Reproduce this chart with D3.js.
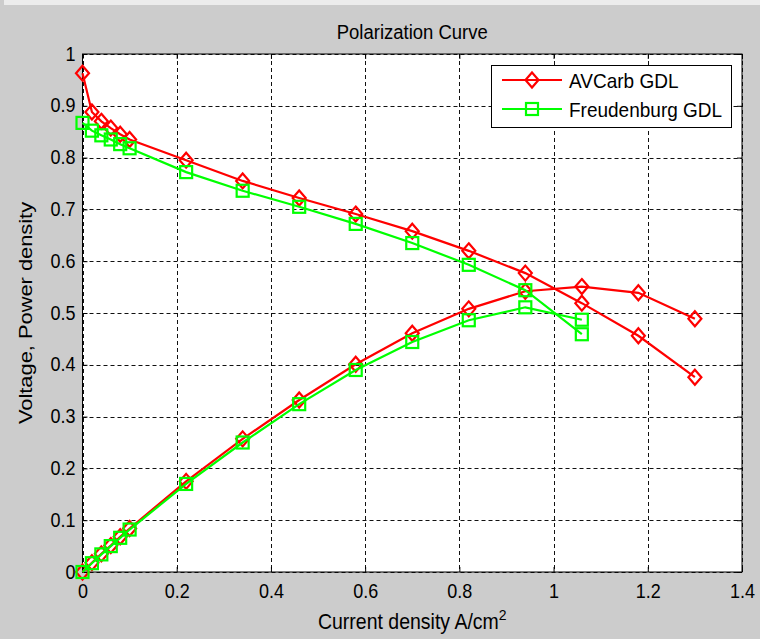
<!DOCTYPE html>
<html><head><meta charset="utf-8">
<script src="https://cdn.jsdelivr.net/npm/d3@7"></script>
<style>html,body{margin:0;padding:0;background:#cccccc;}svg{display:block;}</style>
</head><body>
<svg id="c" width="760" height="639"></svg>
<script>
const currentDensity = [0, 0.02, 0.04, 0.06, 0.08, 0.10, 0.22, 0.34, 0.46, 0.58, 0.70, 0.82, 0.94, 1.06, 1.18, 1.30];
const avcarbVoltage = [0.963, 0.888, 0.870, 0.857, 0.845, 0.835, 0.795, 0.755, 0.722, 0.691, 0.658, 0.620, 0.577, 0.519, 0.456, 0.376];
const avcarbPower   = [0, 0.018, 0.035, 0.051, 0.068, 0.084, 0.175, 0.257, 0.332, 0.401, 0.461, 0.508, 0.542, 0.551, 0.539, 0.489];
const freudCurrent = [0, 0.02, 0.04, 0.06, 0.08, 0.10, 0.22, 0.34, 0.46, 0.58, 0.70, 0.82, 0.94, 1.06];
const freudVoltage = [0.867, 0.852, 0.843, 0.835, 0.826, 0.818, 0.772, 0.736, 0.705, 0.672, 0.635, 0.593, 0.544, 0.459];
const freudPower   = [0, 0.017, 0.034, 0.050, 0.066, 0.082, 0.170, 0.250, 0.324, 0.390, 0.444, 0.486, 0.511, 0.487];
const xTicks = [0, 0.2, 0.4, 0.6, 0.8, 1, 1.2, 1.4];
const yTicks = [0, 0.1, 0.2, 0.3, 0.4, 0.5, 0.6, 0.7, 0.8, 0.9, 1];
const seriesNames = ["AVCarb GDL", "Freudenburg GDL"];

const svg = d3.select("#c");
const L = 82.5, R = 742, T = 54, B = 572;
const x = d3.scaleLinear().domain([0, 1.4]).range([L, R]);
const y = d3.scaleLinear().domain([0, 1]).range([B, T]);
const font = "'Liberation Sans', Arial, sans-serif";

svg.append("rect").attr("x", 0).attr("y", 0).attr("width", 760).attr("height", 639).attr("fill", "#cccccc");
svg.append("rect").attr("x", 4).attr("y", 0).attr("width", 756).attr("height", 5).attr("fill", "#ececec");
svg.append("rect").attr("x", L).attr("y", T).attr("width", R - L).attr("height", B - T).attr("fill", "#fff");

// grid
const grid = svg.append("g").attr("stroke", "#111").attr("stroke-width", 1).attr("stroke-dasharray", "4,3");
xTicks.forEach(t => { const px = Math.round(x(t)) + 0.5; grid.append("line").attr("x1", px).attr("x2", px).attr("y1", T).attr("y2", B); });
yTicks.forEach(t => { const py = Math.round(y(t)) + 0.5; grid.append("line").attr("y1", py).attr("y2", py).attr("x1", L).attr("x2", R); });

// axes (tick marks inward on all four sides)
const fmt = d => d === 0 ? "0" : d3.format("~g")(d);
const xa = svg.append("g").attr("transform", `translate(0,${B})`).call(d3.axisBottom(x).tickValues(xTicks).tickSize(-5).tickFormat(fmt));
const xt = svg.append("g").attr("transform", `translate(0,${T})`).call(d3.axisTop(x).tickValues(xTicks).tickSize(-5).tickFormat(""));
const ya = svg.append("g").attr("transform", `translate(${L},0)`).call(d3.axisLeft(y).tickValues(yTicks).tickSize(-5).tickFormat(fmt));
const yr = svg.append("g").attr("transform", `translate(${R},0)`).call(d3.axisRight(y).tickValues(yTicks).tickSize(-5).tickFormat(""));
[xa, xt, ya, yr].forEach(g => {
  g.select(".domain").remove();
  g.selectAll("line").attr("stroke", "#000");
});
xa.selectAll("text").attr("font-family", font).attr("font-size", 18).attr("fill", "#000")
  .attr("dy", null).attr("y", 0).attr("transform", "translate(0,26) scale(1,1.15)");
ya.selectAll("text").attr("font-family", font).attr("font-size", 18).attr("fill", "#000")
  .attr("dy", null).attr("x", -7).attr("transform", "translate(0,6) scale(1,1.15)");
svg.append("rect").attr("x", L).attr("y", T).attr("width", R - L).attr("height", B - T).attr("fill", "none").attr("stroke", "#000").attr("stroke-width", 1);

// series
const line = d3.line().x(d => x(d[0])).y(d => y(d[1]));
const diamond = (cx, cy) => `M${cx},${cy - 7.5}L${cx + 6.5},${cy}L${cx},${cy + 7.5}L${cx - 6.5},${cy}Z`;
function drawSeries(xs, ys, color, shape) {
  const pts = xs.map((v, i) => [v, ys[i]]);
  svg.append("path").attr("d", line(pts)).attr("fill", "none").attr("stroke", color).attr("stroke-width", 2.2);
  pts.forEach(p => {
    const cx = x(p[0]), cy = y(p[1]);
    if (shape === "d") svg.append("path").attr("d", diamond(cx, cy)).attr("fill", "none").attr("stroke", color).attr("stroke-width", 2.2);
    else svg.append("rect").attr("x", cx - 6).attr("y", cy - 6).attr("width", 12).attr("height", 12).attr("fill", "none").attr("stroke", color).attr("stroke-width", 2.2);
  });
}
drawSeries(currentDensity, avcarbVoltage, "#ff0000", "d");
drawSeries(currentDensity, avcarbPower, "#ff0000", "d");
drawSeries(freudCurrent, freudVoltage, "#00ff00", "s");
drawSeries(freudCurrent, freudPower, "#00ff00", "s");

// legend
const lg = svg.append("g");
lg.append("rect").attr("x", 491.5).attr("y", 65.5).attr("width", 240).attr("height", 62).attr("fill", "#fff").attr("stroke", "#000").attr("stroke-width", 1);
const legendItems = [{name: seriesNames[0], color: "#ff0000", shape: "d", yy: 80}, {name: seriesNames[1], color: "#00ff00", shape: "s", yy: 109}];
legendItems.forEach(it => {
  lg.append("line").attr("x1", 502).attr("x2", 562).attr("y1", it.yy).attr("y2", it.yy).attr("stroke", it.color).attr("stroke-width", 2.2);
  if (it.shape === "d") lg.append("path").attr("d", diamond(532, it.yy)).attr("fill", "none").attr("stroke", it.color).attr("stroke-width", 2.2);
  else lg.append("rect").attr("x", 526).attr("y", it.yy - 6).attr("width", 12).attr("height", 12).attr("fill", "none").attr("stroke", it.color).attr("stroke-width", 2.2);
  lg.append("text").attr("transform", `translate(569,${it.yy + 7.5}) scale(1,1.1)`).attr("font-family", font).attr("font-size", 19).attr("fill", "#000").text(it.name);
});

// titles
svg.append("text").attr("transform", `translate(${(L + R) / 2},39) scale(1,1.1)`).attr("text-anchor", "middle").attr("font-family", font).attr("font-size", 18.5).text("Polarization Curve");
const xl = svg.append("text").attr("transform", `translate(${(L + R) / 2},629) scale(1,1.1)`).attr("text-anchor", "middle").attr("font-family", font).attr("font-size", 19.5);
xl.append("tspan").text("Current density A/cm");
xl.append("tspan").attr("dy", -8).attr("font-size", 14).text("2");
svg.append("text").attr("transform", `translate(32,${(T + B) / 2}) rotate(-90) scale(1.15,1)`).attr("text-anchor", "middle").attr("font-family", font).attr("font-size", 19).text("Voltage, Power density");
</script>
</body></html>
